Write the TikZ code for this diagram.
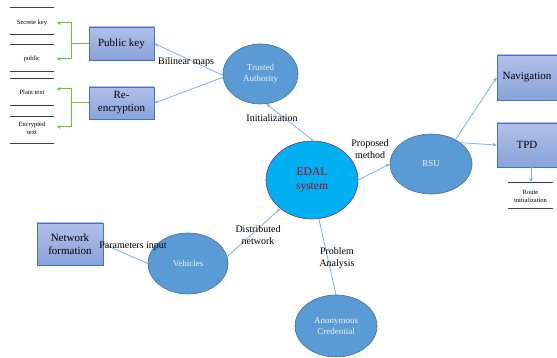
\documentclass[tikz,border=0pt]{standalone}
\usepackage{fontspec}
\setmainfont{Liberation Serif}
\usetikzlibrary{shapes.geometric,arrows.meta}
\definecolor{ellfill}{HTML}{5B9BD5}
\definecolor{elldraw}{HTML}{41719C}
\definecolor{boxtop}{HTML}{B0C0EA}
\definecolor{boxbot}{HTML}{8AA2DA}
\definecolor{boxdraw}{HTML}{4472C4}
\definecolor{conncol}{HTML}{7FB2E0}
\definecolor{bracketgreen}{HTML}{6FBF3F}
\definecolor{edalfill}{HTML}{00B0F0}
\definecolor{edaldraw}{HTML}{7030A0}
\definecolor{edaltext}{HTML}{B00020}
\tikzset{
 ell/.style={ellipse, draw=elldraw, fill=ellfill, line width=0.6pt, inner sep=0pt, text=white!88!ellfill, align=center, font=\fontsize{9}{11}\selectfont},
 bx/.style={rectangle, draw=boxdraw, top color=boxtop, bottom color=boxbot, line width=0.6pt, inner sep=0pt, align=center, font=\fontsize{11}{13}\selectfont},
 conn/.style={draw=conncol, line width=0.8pt},
 arr/.style={conn, -{Stealth[length=4pt,width=3.5pt]}},
 greenarrow/.style={draw=bracketgreen, line width=1pt, -{Stealth[length=3.5pt,width=3.5pt]}},
 lbl/.style={inner sep=0pt, align=center, font=\fontsize{10}{12}\selectfont},
 small/.style={inner sep=0pt, align=center, font=\fontsize{6.5}{8}\selectfont},
 rule/.style={draw=black!75, line width=0.8pt}
}
\begin{document}
\begin{tikzpicture}[x=1pt,y=-1pt]
\useasboundingbox[fill=white] (0,0) rectangle (557,358);

% list on the left
\foreach \yy in {7,34,44,71,78,105,116,143}{\draw[rule] (10,\yy) -- (54,\yy);}
\node[small] (sk) at (32,23) {Secrete key};
\node[small] (pub) at (32,59) {public};
\node[small] (pt) at (32,92) {Plain text};
\node[small] (et) at (32,128.5) {Encrypted\\text};

% boxes
\node[bx, minimum width=65pt, minimum height=33pt] (pk) at (121.5,43.5) {Public key};
\node[bx, minimum width=65pt, minimum height=32pt] (re) at (121.5,103) {Re-\\encryption};
\node[bx, minimum width=60pt, minimum height=45pt] (nav) at (527,77.5) {Navigation};
\node[bx, minimum width=60pt, minimum height=44pt] (tpd) at (527,145) {TPD};
\node[bx, minimum width=66pt, minimum height=42pt] (nf) at (70,244) {Network\\formation};

% ellipses
\node[ell, minimum width=75pt, minimum height=60pt] (ta) at (260.5,74) {Trusted\\Authority};
\node[ell, fill=edalfill, draw=edaldraw, text=edaltext, minimum width=92pt, minimum height=78pt, font=\fontsize{11.5}{14}\selectfont] (edal) at (312,180) {EDAL\\system};
\node[ell, minimum width=82pt, minimum height=60pt] (rsu) at (431,164) {RSU};
\node[ell, minimum width=80pt, minimum height=61pt] (veh) at (188,263.5) {Vehicles};
\node[ell, minimum width=82pt, minimum height=62pt] (anon) at (336,326) {Anonymous\\Credential};

% route initialization
\coordinate (rt) at (531,182);
\draw[rule] (508,182) -- (553,182);
\draw[rule] (508,208) -- (553,208);
\node[small] (route) at (530.5,196) {Route\\initialization};

% green brackets
\coordinate (gv1) at (71,43.5);
\coordinate (ga1) at (57,23);
\coordinate (ga2) at (57,59);
\coordinate (gv2) at (71,103);
\coordinate (ga3) at (57,89);
\coordinate (ga4) at (57,127);
\draw[greenarrow] (pk.west) -- (gv1) |- (ga1);
\draw[greenarrow] (pk.west) -- (gv1) |- (ga2);
\draw[greenarrow] (re.west) -- (gv2) |- (ga3);
\draw[greenarrow] (re.west) -- (gv2) |- (ga4);

% connectors
\draw[arr] (ta.182) -- (pk.east);
\draw[arr] (ta.185) -- (re.east);
\draw[arr] (edal.88) -- (ta.-79);
\draw[arr] (edal.east) -- (rsu.west);
\draw[arr] (rsu.45) -- (nav.west);
\draw[arr] (rsu.36) -- (tpd.west);
\draw[arr] (tpd.south -| rt) -- (rt);
\draw[arr] (veh.10) -- (edal.222);
\draw[conn] (nf.east) -- (veh.west);
\draw[conn] (edal.-80) -- (anon.north);

% labels
\node[lbl] (lbm) at (186,62) {Bilinear maps};
\node[lbl] (lin) at (272,118) {Initialization};
\node[lbl] (lpm) at (370,149) {Proposed\\method};
\node[lbl] (ldn) at (258,235.5) {Distributed\\network};
\node[lbl] (lpi) at (133,246) {Parameters input};
\node[lbl] (lpa) at (337,258.5) {Problem\\Analysis};
\end{tikzpicture}
\end{document}
